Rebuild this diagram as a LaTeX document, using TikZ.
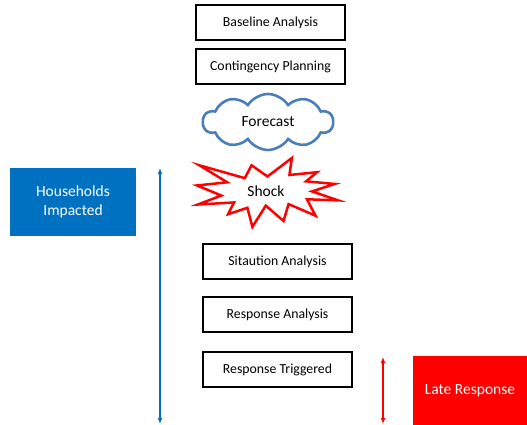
\documentclass[tikz,border=0pt]{standalone}
\usepackage{fontspec}
\setmainfont{Carlito}
\usetikzlibrary{shapes.symbols,arrows.meta}
\definecolor{hhblue}{HTML}{0070C0}
\definecolor{cloudblue}{HTML}{4A7EBB}
\definecolor{lateRed}{HTML}{FF0000}
\tikzset{
  stepbox/.style={draw=black,line width=1.3pt,fill=white,minimum width=149pt,minimum height=35pt,inner sep=0pt,font=\fontsize{13.8}{16}\selectfont},
  infobox/.style={minimum width=126pt,minimum height=68pt,inner sep=0pt,text=white,align=center,font=\fontsize{15.5}{19.5}\selectfont},
  span/.style={line width=1.6pt,{Latex[length=6pt,width=5pt]}-{Latex[length=6pt,width=5pt]}}
}
\begin{document}
\begin{tikzpicture}[x=1pt,y=-1pt]
\useasboundingbox (0,0) rectangle (527,425);
% planning stages
\node[stepbox] (base) at (270.5,22.5) {Baseline Analysis};
\node[stepbox] (cont) at (270.5,66.5) {Contingency Planning};
% forecast cloud
\node[cloud,cloud puffs=10,cloud puff arc=115,aspect=2.3,draw=cloudblue,line width=2.6pt,fill=white,
      minimum width=130pt,minimum height=56pt,inner sep=0pt,font=\fontsize{15.5}{18}\selectfont] (fcst) at (268,122) {Forecast};
% shock burst (explosion outline on a 21600 grid)
\begin{scope}[shift={(197,158)},x=0.006528pt,y=-0.003194pt]
\draw[lateRed,line width=2.5pt,fill=white,line join=miter]
 (10800,5800) -- (14522,0) -- (14155,5325) -- (18380,4457) -- (16702,7315) -- (21097,8137)
 -- (17607,10475) -- (21600,13290) -- (16837,12942) -- (18145,18095) -- (14020,14457)
 -- (13247,19737) -- (10532,14935) -- (8485,21600) -- (7715,15627) -- (4762,17617)
 -- (5667,13937) -- (135,14587) -- (3722,11775) -- (0,8615) -- (4627,7617) -- (370,2295)
 -- (7312,6320) -- (8352,2295) -- cycle;
\end{scope}
\node[font=\fontsize{15.5}{18}\selectfont] (shock) at (266,191) {Shock};
% response stages
\node[stepbox] (sit) at (277.5,261.5) {Sitaution Analysis};
\node[stepbox] (resp) at (277.5,314.5) {Response Analysis};
\node[stepbox] (trig) at (277.5,369.5) {Response Triggered};
% side panels
\node[infobox,fill=hhblue] (hh) at (73,202) {Households\\Impacted};
\node[infobox,fill=lateRed,minimum width=114pt,minimum height=69pt] (late) at (470,390.5) {Late Response};
% duration arrows
\coordinate (bt) at (160,168);
\coordinate (bb) at (160,424);
\coordinate (rt) at (383,357);
\coordinate (rb) at (383,424);
\draw[span,hhblue] (bt) -- (bb);
\draw[span,lateRed] (rt) -- (rb);
\end{tikzpicture}
\end{document}
